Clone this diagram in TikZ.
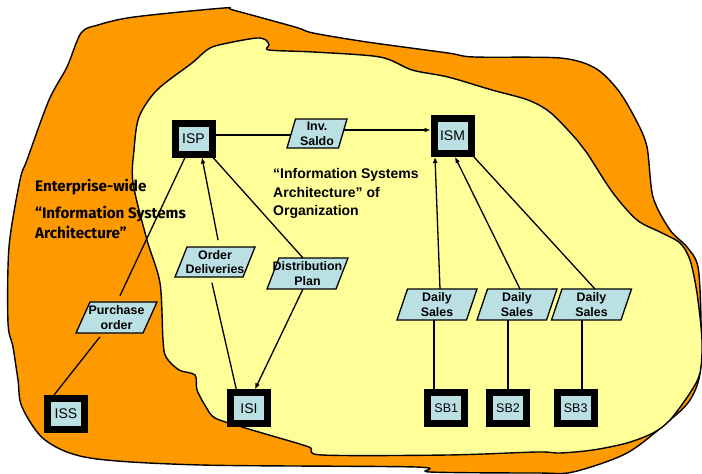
\documentclass[tikz,border=0pt]{standalone}
\usepackage{fontspec}
\setmainfont{Liberation Sans}
\newfontfamily\comicf{Fira Sans}
\usetikzlibrary{arrows.meta,calc}
\definecolor{orangeA}{RGB}{255,153,0}
\definecolor{yellowA}{RGB}{255,255,153}
\definecolor{boxblue}{RGB}{187,224,227}
% name, x, y, total width, height, slant shift, text
\newcommand\flowbox[7]{%
 \draw[flowshape] ({#2-#4/2},{#3+#5/2}) -- ({#2+#4/2-#6},{#3+#5/2}) -- ({#2+#4/2},{#3-#5/2}) -- ({#2-#4/2+#6},{#3-#5/2}) -- cycle;
 \node[flowtext] (#1) at (#2,#3) {#7};}
\begin{document}
\begin{tikzpicture}[x=1pt,y=-1pt,
 sysbox/.style={rectangle, fill=boxblue, draw=black, line width=7pt, minimum width=37pt, minimum height=31pt, inner sep=0pt, font=\fontsize{14}{14}\selectfont},
 flowshape/.style={draw=black, fill=boxblue, line width=1.3pt},
 flowtext/.style={inner sep=0pt, align=center, font=\bfseries\fontsize{12.4}{14.8}\selectfont},
 conn/.style={line width=1.3pt},
 arr/.style={conn, -{Latex[length=6pt,width=5pt]}},
 blob/.style={draw=black, line width=1.4pt},
 lbl/.style={anchor=west, align=left, inner sep=0pt}]
\useasboundingbox (0,0) rectangle (702,474);
\begin{scope}
\clip (0,0) rectangle (702,474);
% outer orange region
\draw[blob, fill=orangeA] plot[smooth cycle, tension=0.5] coordinates {
 (81,33) (98,25) (134,17) (224,8) (233,10) (295,27) (313,33) (367,42) (448,53) (474,57)
 (560,58) (595,68) (618,90) (636,120) (647,147) (653,197) (670,230) (687,247) (698,267)
 (701,320) (700,373) (690,400) (670,420) (627,453) (573,472) (537,473) (430,472) (416,467)
 (201,465) (90,458) (45,440) (22,407) (18,380) (13,347) (8,323) (9,247) (20,180) (27,160)
 (49,100) (67,67)};
% inner yellow region
\draw[blob, fill=yellowA] plot[smooth cycle, tension=0.5] coordinates {
 (139,117) (157,90) (192,63) (210,48) (233,42) (257,38) (266,40) (269,45) (269,50)
 (313,52) (380,57) (412,70) (448,77) (492,90) (528,100) (551,113) (577,140) (587,153)
 (613,193) (637,220) (660,232) (680,243) (690,260) (697,293) (702,340) (700,373)
 (690,393) (670,420) (653,433) (627,443) (593,450) (560,453) (537,452) (448,455)
 (322,455) (309,447) (269,435) (242,427) (215,418) (206,407) (197,390) (195,375)
 (179,370) (166,357) (163,340) (160,283) (147,240) (133,183) (134,150)};
\end{scope}

% texts
\node[lbl, font=\comicf\bfseries\fontsize{15.2}{15.2}\selectfont] (ew) at (35,187) {Enterprise-wide};
\node[lbl, font=\comicf\bfseries\fontsize{15.2}{19.5}\selectfont] (isa) at (35,222.5) {“Information Systems\\Architecture”};
\node[lbl, font=\bfseries\fontsize{14}{18.5}\selectfont] (org) at (273,193.5) {“Information Systems\\Architecture” of\\Organization};

% system boxes
\node[sysbox] (ISP) at (193.5,139) {ISP};
\node[sysbox, minimum height=35pt] (ISM) at (452.5,136) {ISM};
\node[sysbox] (ISS) at (66,414) {ISS};
\node[sysbox] (ISI) at (249,408.3) {ISI};
\node[sysbox, font=\fontsize{12.5}{12.5}\selectfont] (SB1) at (446.3,408.3) {SB1};
\node[sysbox, font=\fontsize{12.5}{12.5}\selectfont] (SB2) at (508,408.3) {SB2};
\node[sysbox, font=\fontsize{12.5}{12.5}\selectfont] (SB3) at (575.7,408.3) {SB3};

% flows
\flowbox{InvS}{317}{133.5}{60}{29}{8.5}{Inv.\\Saldo}
\flowbox{OD}{215}{262}{80}{30}{12}{Order\\Deliveries}
\flowbox{DP}{307.5}{273.5}{81}{31}{12}{Distribution\\Plan}
\flowbox{PO}{116.5}{317.5}{81}{31}{14}{Purchase\\order}
\flowbox{DS1}{437}{304.5}{80}{31}{10.5}{Daily\\Sales}
\flowbox{DS2}{517}{304.5}{80}{31}{10.5}{Daily\\Sales}
\flowbox{DS3}{591.5}{304.5}{80}{31}{10.5}{Daily\\Sales}

% connectors
\draw[conn, shorten >=5pt] ($(ISS.center)+(-12,-19)$) -- ($(PO.center)+(-13.5,15.5)$);
\draw[conn, shorten <=7pt] ($(PO.center)+(0.5,-15.5)$) -- ($(ISP.center)+(-8.5,18.5)$);
\draw[arr, shorten <=7pt] ($(OD.center)+(4.4,-15)$) -- ($(ISP.center)+(8.5,18.5)$);
\draw[conn, shorten <=6pt] ($(OD.center)+(-4.4,15)$) -- ($(ISI.center)+(-12.7,-19)$);
\draw[conn] ($(ISP.center)+(19.5,18.5)$) -- ($(DP.center)+(-4.5,-15.5)$);
\draw[arr] ($(DP.center)+(-4.5,15.5)$) -- ($(ISI.center)+(6,-19)$);
\draw[arr] ($(DS1.center)+(3,-15.5)$) -- ($(ISM.center)+(-17.5,21)$);
\draw[arr] ($(DS2.center)+(3,-15.5)$) -- ($(ISM.center)+(2.5,21)$);
\draw[conn] ($(DS3.center)+(3.5,-15.5)$) -- ($(ISM.center)+(21.5,21)$);
\draw[conn] ($(DS1.center)+(-3,15.5)$) -- ($(SB1.center)+(-12.3,-19)$);
\draw[conn] ($(DS2.center)+(-9,15.5)$) -- ($(SB2.center)+(0,-19)$);
\draw[conn] ($(DS3.center)+(-9.5,15.5)$) -- ($(SB3.center)+(6.3,-19)$);
\draw[conn] ($(ISP.center)+(22,-4)$) -- ($(InvS.center)+(-26.4,1.5)$);
\draw[arr] ($(InvS.center)+(26.6,-3.5)$) -- ($(ISM.center)+(-22,-6)$);
\end{tikzpicture}
\end{document}
